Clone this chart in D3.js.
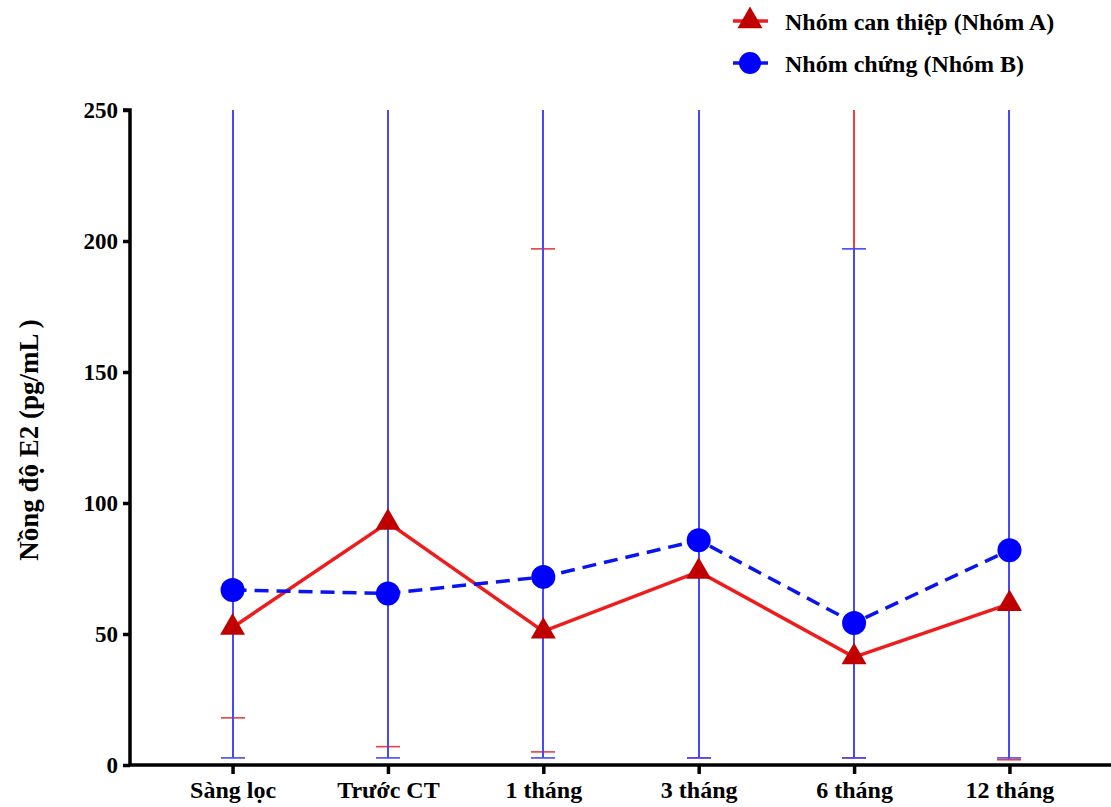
<!DOCTYPE html>
<html>
<head>
<meta charset="utf-8">
<script src="https://cdn.jsdelivr.net/npm/d3@7"></script>
<style>
  body { margin: 0; background: #fff; }
  text { font-family: "Liberation Serif", "Times New Roman", serif; font-weight: bold; fill: #000; }
</style>
</head>
<body>
<svg id="chart" width="1111" height="807"></svg>
<script>
const categories = ['Sàng lọc', 'Trước CT', '1 tháng', '3 tháng', '6 tháng', '12 tháng'];
const yTicks = [0, 50, 100, 150, 200, 250];

// Nhóm A (can thiệp): mean, lower, upper
const meanA = [52.5, 92.5, 51, 73.8, 41.2, 61.5];
const lowA = [18, 7, 5, 2.7, 2.7, 2];
const highA = [260, 260, 197, 260, 260, 260];

// Nhóm B (chứng)
const meanB = [66.8, 65.5, 71.8, 85.8, 54.2, 82];
const lowB = [2.7, 2.7, 2.7, 2.7, 2.7, 2.7];
const highB = [260, 260, 260, 260, 197, 260];

const series = [
  { name: 'Nhóm can thiệp (Nhóm A)', mean: meanA, low: lowA, high: highA,
    line: '#ee1c1c', marker: '#c00000', bar: '#e84040', dash: null, shape: 'tri' },
  { name: 'Nhóm chứng (Nhóm B)', mean: meanB, low: lowB, high: highB,
    line: '#0a14f0', marker: '#0000ff', bar: '#4848f8', dash: '14,8', shape: 'circle' }
];

const svg = d3.select('#chart');
const x = d3.scalePoint().domain(categories).range([130, 1112]).padding(0.66);
const y = d3.scaleLinear().domain([0, 250]).range([765, 110]);
const px = c => Math.round(x(c));

svg.append('defs').append('clipPath').attr('id', 'plot')
  .append('rect').attr('x', 0).attr('y', y(250)).attr('width', 1111).attr('height', y(0) - y(250));

const capW = 12;

// error bars: A first, B on top
series.forEach(s => {
  const g = svg.append('g').attr('clip-path', 'url(#plot)');
  categories.forEach((c, i) => {
    const cx = px(c);
    g.append('line').attr('x1', cx).attr('x2', cx)
      .attr('y1', y(s.low[i])).attr('y2', y(Math.min(s.high[i], 250)))
      .attr('stroke', s.bar).attr('stroke-width', 2)
      .attr('shape-rendering', 'crispEdges');
    [s.low[i], s.high[i]].filter(v => v <= 250).forEach(v => {
      g.append('line').attr('x1', cx - capW).attr('x2', cx + capW)
        .attr('y1', y(v)).attr('y2', y(v))
        .attr('stroke', s.bar).attr('stroke-width', 1.6);
    });
  });
});

const line = d3.line().x((d, i) => x(categories[i])).y(d => y(d));
const tri = d3.symbol().type(d3.symbolTriangle).size(270);

series.forEach(s => {
  svg.append('path').datum(s.mean).attr('d', line)
    .attr('fill', 'none').attr('stroke', s.line).attr('stroke-width', 3.5)
    .attr('stroke-dasharray', s.dash);
});

series.forEach(s => {
  const g = svg.append('g');
  s.mean.forEach((v, i) => {
    if (s.shape === 'circle') {
      g.append('circle').attr('cx', x(categories[i])).attr('cy', y(v)).attr('r', 12)
        .attr('fill', s.marker);
    } else {
      g.append('path').attr('d', tri)
        .attr('transform', `translate(${x(categories[i])},${y(v)})`)
        .attr('fill', s.marker);
    }
  });
});

// axes
const yAxis = svg.append('g').attr('transform', 'translate(130,0)')
  .call(d3.axisLeft(y).tickValues(yTicks).tickSize(7).tickPadding(5));
const xAxis = svg.append('g').attr('transform', `translate(0,${y(0)})`)
  .call(d3.axisBottom(x).tickSize(9).tickPadding(7));
[yAxis, xAxis].forEach(a => {
  a.select('.domain').attr('stroke', '#000').attr('stroke-width', 3.5);
  a.selectAll('.tick line').attr('stroke', '#000').attr('stroke-width', 3.5);
  a.selectAll('text').attr('font-size', 24).attr('font-family', '"Liberation Serif", serif')
    .attr('font-weight', 'bold').attr('fill', '#000');
});
yAxis.selectAll('text').attr('font-size', 23);
yAxis.select('.domain').attr('d', `M-7,${y(250)}H0V${y(0)}`);
xAxis.select('.domain').attr('d', `M130,0H1112`);

svg.append('text').attr('transform', `translate(38,440) rotate(-90)`)
  .attr('text-anchor', 'middle').attr('font-size', 27).text('Nồng độ E2 (pg/mL )');

// legend
series.forEach((s, i) => {
  const ly = 21 + i * 42;
  const g = svg.append('g');
  g.append('line').attr('x1', 733).attr('x2', 768).attr('y1', ly).attr('y2', ly)
    .attr('stroke', s.line).attr('stroke-width', 3.5);
  if (s.shape === 'circle') {
    g.append('circle').attr('cx', 750).attr('cy', ly).attr('r', 11).attr('fill', s.marker);
  } else {
    g.append('path').attr('d', tri).attr('transform', `translate(750,${ly})`).attr('fill', s.marker);
  }
  g.append('text').attr('x', 785).attr('y', ly + 9).attr('font-size', 24).text(s.name);
});
</script>
</body>
</html>
